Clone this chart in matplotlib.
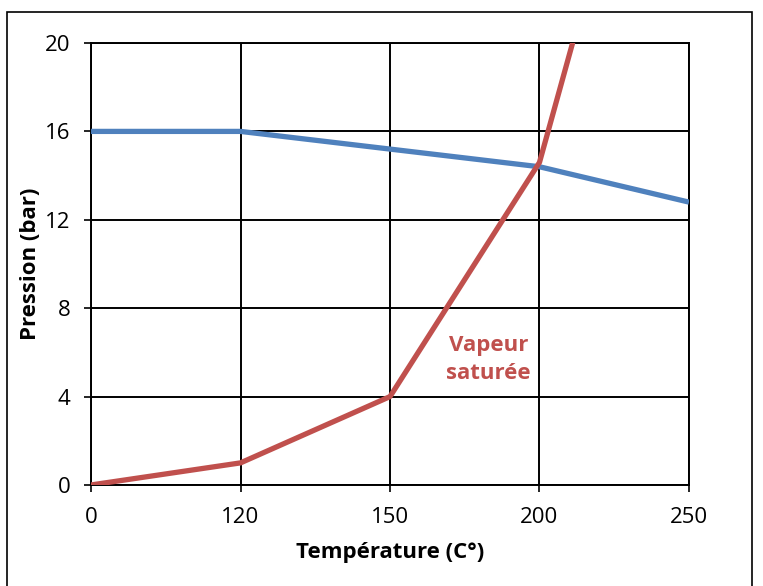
import numpy as np
import matplotlib
matplotlib.use("Agg")
import matplotlib.pyplot as plt
from matplotlib.patches import Rectangle

# categories on x (equally spaced in the source chart)
temperatures = ["0", "120", "150", "200", "250"]
pression_reseau = [16, 16, 15.2, 14.4, 12.8]
pression_vapeur = [0, 1, 4, 14.6, 39]
y_ticks = [0, 4, 8, 12, 16, 20]

bleu = "#4F81BD"
rouge = "#C0504D"

plt.rcParams['font.family'] = ['Open Sans', 'DejaVu Sans']

fig = plt.figure(figsize=(7.63, 5.86), dpi=100)
ax = fig.add_axes([0.1193, 0.1724, 0.7837, 0.7542])

x = np.arange(len(temperatures))
ax.plot(x, pression_reseau, color=bleu, lw=3.8, solid_capstyle="butt", zorder=3)
ax.plot(x, pression_vapeur, color=rouge, lw=3.8, solid_capstyle="butt", zorder=3)

ax.set_xlim(0, len(temperatures) - 1)
ax.set_ylim(0, 20)
ax.set_xticks(x)
ax.set_xticklabels(temperatures)
ax.set_yticks(y_ticks)
ax.tick_params(labelsize=16, length=5, width=1.2, direction="out", color="black")
ax.tick_params(axis="x", pad=11)
ax.tick_params(axis="y", pad=10)
ax.grid(True, color="black", lw=1.4)
ax.set_axisbelow(True)
for s in ax.spines.values():
    s.set_color("black")
    s.set_linewidth(1.4)

ax.set_xlabel("Température (C°)", fontsize=16, fontweight="bold", labelpad=10)
ax.set_ylabel("Pression (bar)", fontsize=16, fontweight="bold", labelpad=3)

ax.text(2.66, 5.66, "Vapeur\nsaturée", color=rouge, fontsize=16, fontweight="bold",
        ha="center", va="center", linespacing=1.45)

# cadre du graphique
fig.patches.append(Rectangle((7 / 763, -0.01), (752 - 7) / 763, 1 - 12 / 586 + 0.01,
                             transform=fig.transFigure, fill=False, edgecolor="black", lw=1.2))

fig.savefig("out.png", dpi=100)
